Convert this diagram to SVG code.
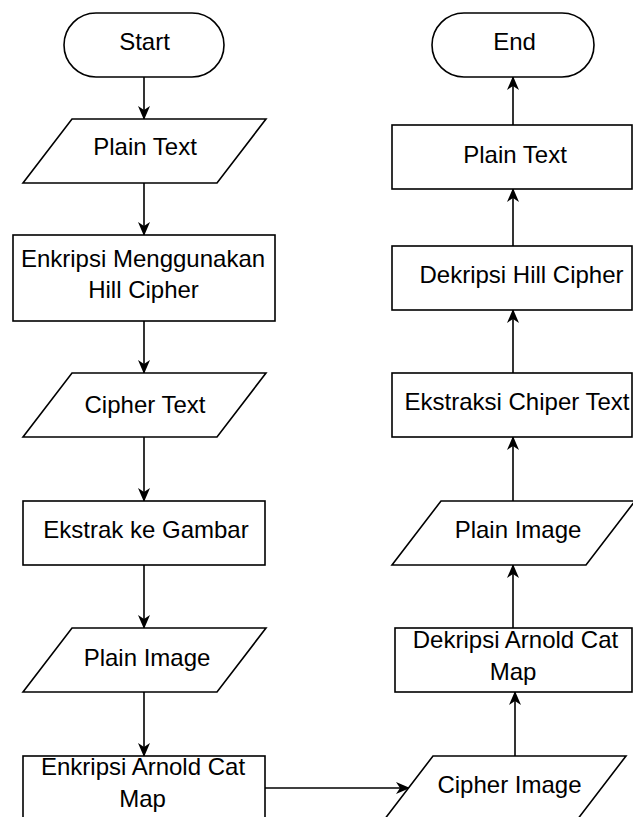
<svg xmlns="http://www.w3.org/2000/svg" width="633" height="817" viewBox="0 0 633 817">
<defs>
<style>
.s{fill:#fff;stroke:#000;stroke-width:1.6}
.t{font-family:"Liberation Sans",Arial,sans-serif;font-size:24px;fill:#000;text-anchor:middle}
.c{fill:none;stroke:#000;stroke-width:1.6}
</style>
<marker id="a" viewBox="0 0 14 12" markerWidth="14" markerHeight="12" refX="13" refY="6" orient="auto" markerUnits="userSpaceOnUse">
<path d="M0,0 L14,6 L0,12 L4,6 Z" fill="#000"/>
</marker>
</defs>
<rect width="633" height="817" fill="#fff"/>
<g id="connectors">
<path class="c" d="M144,77 V119" marker-end="url(#a)"/>
<path class="c" d="M144,183 V235" marker-end="url(#a)"/>
<path class="c" d="M144,321 V373" marker-end="url(#a)"/>
<path class="c" d="M144,437 V501" marker-end="url(#a)"/>
<path class="c" d="M144,565 V628" marker-end="url(#a)"/>
<path class="c" d="M144,692 V756" marker-end="url(#a)"/>
<path class="c" d="M265,788 H409" marker-end="url(#a)"/>
<path class="c" d="M515,756 V692" marker-end="url(#a)"/>
<path class="c" d="M513,628 V565" marker-end="url(#a)"/>
<path class="c" d="M513,501 V437" marker-end="url(#a)"/>
<path class="c" d="M513,373 V310" marker-end="url(#a)"/>
<path class="c" d="M513,246 V189" marker-end="url(#a)"/>
<path class="c" d="M513,125 V77" marker-end="url(#a)"/>
</g>
<g id="start">
<rect class="s" x="64" y="13" width="160" height="64" rx="32"/>
<text class="t" x="144.5" y="50">Start</text>
</g>
<g id="plain-text-in">
<path class="s" d="M72,119 H266 L217,183 H23 Z"/>
<text class="t" x="145" y="155">Plain Text</text>
</g>
<g id="enkripsi-hill">
<rect class="s" x="13" y="235" width="262" height="86"/>
<text class="t" x="143" y="267">Enkripsi Menggunakan</text>
<text class="t" x="143.5" y="298">Hill Cipher</text>
</g>
<g id="cipher-text">
<path class="s" d="M72,373 H266 L217,437 H23 Z"/>
<text class="t" x="145" y="413">Cipher Text</text>
</g>
<g id="ekstrak">
<rect class="s" x="23" y="501" width="242" height="64"/>
<text class="t" x="146" y="538">Ekstrak ke Gambar</text>
</g>
<g id="plain-image-in">
<path class="s" d="M72,628 H266 L217,692 H23 Z"/>
<text class="t" x="147" y="666">Plain Image</text>
</g>
<g id="enkripsi-arnold">
<rect class="s" x="23" y="756" width="242" height="64"/>
<text class="t" x="143" y="775">Enkripsi Arnold Cat</text>
<text class="t" x="142.5" y="807">Map</text>
</g>
<g id="cipher-image">
<path class="s" d="M433,756 H626 L577,820 H384 Z"/>
<text class="t" x="509.5" y="793">Cipher Image</text>
</g>
<g id="dekripsi-arnold">
<rect class="s" x="395" y="628" width="237" height="64"/>
<text class="t" x="515.5" y="648">Dekripsi Arnold Cat</text>
<text class="t" x="513" y="680">Map</text>
</g>
<g id="plain-image-out">
<path class="s" d="M441,501 H635 L586,565 H392 Z"/>
<text class="t" x="518" y="538">Plain Image</text>
</g>
<g id="ekstraksi">
<rect class="s" x="392" y="373" width="240" height="64"/>
<text class="t" x="517" y="410">Ekstraksi Chiper Text</text>
</g>
<g id="dekripsi-hill">
<rect class="s" x="392" y="246" width="240" height="64"/>
<text class="t" x="521.5" y="283">Dekripsi Hill Cipher</text>
</g>
<g id="plain-text-out">
<rect class="s" x="392" y="125" width="240" height="64"/>
<text class="t" x="515" y="163">Plain Text</text>
</g>
<g id="end">
<rect class="s" x="432" y="13" width="162" height="64" rx="32"/>
<text class="t" x="514.5" y="50">End</text>
</g>
</svg>
